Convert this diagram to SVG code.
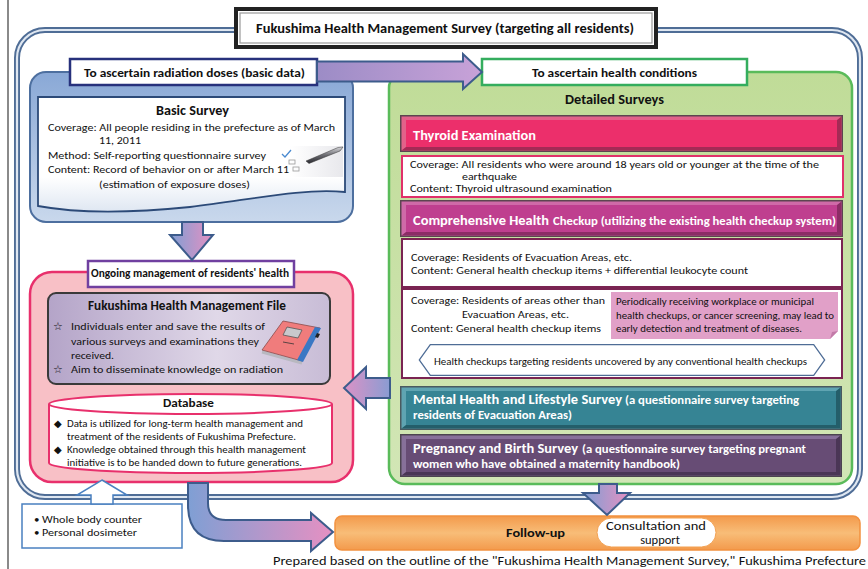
<svg xmlns="http://www.w3.org/2000/svg" width="868" height="569" viewBox="0 0 868 569">
<defs>
<linearGradient id="gArrow" x1="0" y1="0" x2="1" y2="0"><stop offset="0" stop-color="#7f9fd4"/><stop offset="1" stop-color="#e690c2"/></linearGradient>
<linearGradient id="gArrowL" x1="1" y1="0" x2="0" y2="0"><stop offset="0" stop-color="#8a9cd2"/><stop offset="1" stop-color="#dc92c6"/></linearGradient>
<linearGradient id="gTop" x1="0" y1="0" x2="1" y2="0"><stop offset="0" stop-color="#9c8cc6"/><stop offset="1" stop-color="#c8a2d8"/></linearGradient>
<linearGradient id="gBlue" x1="0" y1="0" x2="0" y2="1"><stop offset="0" stop-color="#89a8d6"/><stop offset="1" stop-color="#c9d8ec"/></linearGradient>
<linearGradient id="gGreen" x1="0" y1="0" x2="0" y2="1"><stop offset="0" stop-color="#c0dc98"/><stop offset="1" stop-color="#d2e6b6"/></linearGradient>
<linearGradient id="gLav" x1="0" y1="0" x2="1" y2="0"><stop offset="0" stop-color="#b4a4c8"/><stop offset="0.6" stop-color="#e0d8e8"/><stop offset="1" stop-color="#c8bcd6"/></linearGradient>
<linearGradient id="gOrange" x1="0" y1="0" x2="0" y2="1"><stop offset="0" stop-color="#f39a4c"/><stop offset="0.5" stop-color="#f8bd78"/><stop offset="1" stop-color="#f39a4c"/></linearGradient>
<linearGradient id="gDoc" x1="0" y1="0" x2="0" y2="1"><stop offset="0.7" stop-color="#ffffff"/><stop offset="1" stop-color="#dfe7f2"/></linearGradient>
<linearGradient id="gPenBg" x1="0" y1="0" x2="1" y2="0"><stop offset="0" stop-color="#ffffff"/><stop offset="1" stop-color="#e8e8ec"/></linearGradient>
<linearGradient id="gPen" x1="0" y1="0" x2="0" y2="1"><stop offset="0" stop-color="#d8d8dc"/><stop offset="0.5" stop-color="#6a6a70"/><stop offset="1" stop-color="#2a2a30"/></linearGradient>
</defs>
<style>
.t{font-family:Carlito,Lato,'Liberation Sans',sans-serif;fill:#111;font-size:11px}
.b{font-weight:bold}
.w{fill:#fff}
.s10{font-size:10px}
.s12{font-size:12.5px}
.s13{font-size:13.5px}
.s14{font-size:14px}
.arr{stroke:#3d5c8c;stroke-width:2;stroke-linejoin:miter}
.outerD{fill:none;stroke:#4f6d96;stroke-width:6}
.outerL{fill:none;stroke:#dfe7f1;stroke-width:2.2}
</style>

<!-- page edge line -->
<line x1="8" y1="0" x2="8" y2="569" stroke="#8a8a8a" stroke-width="2"/>

<!-- outer frame -->
<g id="frame">
<rect x="17" y="30" width="843" height="467" rx="28" class="outerD"/>
<rect x="17" y="30" width="843" height="467" rx="28" class="outerL"/>
</g>

<!-- title -->
<g id="title">
<rect x="236" y="9" width="420" height="38" fill="#fff" stroke="#222" stroke-width="4"/>
<rect x="240" y="13" width="412" height="30" fill="none" stroke="#9a9a9a" stroke-width="1.2"/>
<text x="256" y="33" class="t b s14" textLength="378" lengthAdjust="spacingAndGlyphs">Fukushima Health Management Survey (targeting all residents)</text>
</g>

<!-- blue: radiation doses -->
<g id="radiation">
<rect x="30" y="72" width="323" height="150" rx="16" fill="url(#gBlue)" stroke="#4d6f9f" stroke-width="2"/>
<path d="M38,97 H345 V192 C300,188 250,200 190,207 C120,214 70,212 38,206 Z" fill="url(#gDoc)" stroke="#2c4a78" stroke-width="1.8"/>
<g id="pen-icon">
<rect x="290" y="146" width="53" height="31" fill="url(#gPenBg)"/>
<path d="M282,154 L285,157 L291,150" fill="none" stroke="#4a8ad0" stroke-width="1.3"/>
<rect x="289" y="160" width="6" height="4" fill="none" stroke="#999" stroke-width="0.8"/>
<rect x="293" y="167" width="6" height="4" fill="none" stroke="#999" stroke-width="0.8"/>
<path d="M306,161 L338,147.5 L343,147 L340,151 L309,163.5 Z" fill="url(#gPen)" stroke="#333" stroke-width="0.5"/>
</g>
<text x="156" y="115" class="t b s13" textLength="73" lengthAdjust="spacingAndGlyphs">Basic Survey</text>
<text x="48" y="131" class="t" textLength="287" lengthAdjust="spacingAndGlyphs">Coverage: All people residing in the prefecture as of March</text>
<text x="99" y="144" class="t" textLength="42" lengthAdjust="spacingAndGlyphs">11, 2011</text>
<text x="48" y="159" class="t" textLength="218" lengthAdjust="spacingAndGlyphs">Method: Self-reporting questionnaire survey</text>
<text x="48" y="173" class="t" textLength="241" lengthAdjust="spacingAndGlyphs">Content: Record of behavior on or after March 11</text>
<text x="99" y="188" class="t" textLength="151" lengthAdjust="spacingAndGlyphs">(estimation of exposure doses)</text>
<rect x="70" y="59" width="247" height="26" fill="#fff" stroke="#27317c" stroke-width="2.5"/>
<text x="84" y="77" class="t b s12" textLength="221" lengthAdjust="spacingAndGlyphs">To ascertain radiation doses (basic data)</text>
</g>

<!-- green: health conditions -->
<g id="health-conditions">
<rect x="389" y="72" width="463" height="412" rx="16" fill="url(#gGreen)" stroke="#5abb5a" stroke-width="2.5"/>
<rect x="482" y="59" width="265" height="26" fill="#fff" stroke="#34ad5e" stroke-width="2.5"/>
<text x="532" y="77" class="t b s12" textLength="165" lengthAdjust="spacingAndGlyphs">To ascertain health conditions</text>
<text x="565" y="104" class="t b s13" textLength="99" lengthAdjust="spacingAndGlyphs">Detailed Surveys</text>
</g>

<g id="thyroid">
<rect x="400" y="115" width="443" height="37" fill="#5d4550"/>
<rect x="401.5" y="116.5" width="440" height="34" fill="#e2628a"/>
<polygon points="841.5,116.5 837,120 837,147 406,147 401.5,150.5 841.5,150.5" fill="#a42a55"/>
<rect x="406" y="120" width="431" height="27" fill="#ec2f6b"/>
<text x="413" y="140" class="t b s14 w" textLength="123" lengthAdjust="spacingAndGlyphs">Thyroid Examination</text>
<rect x="402" y="156" width="441" height="41" fill="#fff" stroke="#e0306a" stroke-width="2"/>
<text x="410" y="168" class="t" textLength="409" lengthAdjust="spacingAndGlyphs">Coverage: All residents who were around 18 years old or younger at the time of the</text>
<text x="462" y="180" class="t" textLength="55" lengthAdjust="spacingAndGlyphs">earthquake</text>
<text x="410" y="192" class="t" textLength="202" lengthAdjust="spacingAndGlyphs">Content: Thyroid ultrasound examination</text>
</g>

<g id="comprehensive">
<rect x="400" y="200" width="443" height="37" fill="#5d4550"/>
<rect x="401.5" y="201.5" width="440" height="34" fill="#cf6aa8"/>
<polygon points="841.5,201.5 837,205 837,232 406,232 401.5,235.5 841.5,235.5" fill="#8c2c66"/>
<rect x="406" y="205" width="431" height="27" fill="#bf3f8f"/>
<text x="413" y="225" class="t b s14 w" textLength="136" lengthAdjust="spacingAndGlyphs">Comprehensive Health</text>
<text x="553" y="225" class="t b w" style="font-size:12px" textLength="283" lengthAdjust="spacingAndGlyphs">Checkup (utilizing the existing health checkup system)</text>
</g>

<g id="evacuation-checkup">
<rect x="402" y="239" width="440" height="48" fill="#fff" stroke="#7a2452" stroke-width="2"/>
<text x="411" y="261" class="t" textLength="221" lengthAdjust="spacingAndGlyphs">Coverage: Residents of Evacuation Areas, etc.</text>
<text x="411" y="274" class="t" textLength="337" lengthAdjust="spacingAndGlyphs">Content: General health checkup items + differential leukocyte count</text>
</g>

<g id="other-areas-checkup">
<rect x="402" y="289" width="440" height="89" fill="#fff" stroke="#7a2452" stroke-width="2"/>
<text x="411" y="304" class="t" textLength="194" lengthAdjust="spacingAndGlyphs">Coverage: Residents of areas other than</text>
<text x="462" y="318" class="t" textLength="107" lengthAdjust="spacingAndGlyphs">Evacuation Areas, etc.</text>
<text x="411" y="332" class="t" textLength="190" lengthAdjust="spacingAndGlyphs">Content: General health checkup items</text>
<g id="note">
<path d="M611,292 H838 V331 L830,339 H611 Z" fill="#e1a0c8"/>
<path d="M830,339 L832,332 L838,331 Z" fill="#c27aa8"/>
<text x="616" y="305" class="t s10" textLength="198" lengthAdjust="spacingAndGlyphs">Periodically receiving workplace or municipal</text>
<text x="616" y="318.5" class="t s10" textLength="218" lengthAdjust="spacingAndGlyphs">health checkups, or cancer screening, may lead to</text>
<text x="616" y="332" class="t s10" textLength="186" lengthAdjust="spacingAndGlyphs">early detection and treatment of diseases.</text>
</g>
<g id="banner">
<polygon points="421,360 431,346 813,346 823,360 813,374 431,374" fill="#fff" stroke="#4f6d96" stroke-width="4"/>
<polygon points="421,360 431,346 813,346 823,360 813,374 431,374" fill="#fff" stroke="#fff" stroke-width="1.4"/>
<text x="434" y="365" class="t" style="font-size:10.5px" textLength="373" lengthAdjust="spacingAndGlyphs">Health checkups targeting residents uncovered by any conventional health checkups</text>
</g>
</g>

<g id="mental">
<rect x="400" y="386" width="442" height="44" fill="#4a5a60"/>
<rect x="401.5" y="387.5" width="439" height="41" fill="#5fa4b2"/>
<polygon points="840.5,387.5 836,391 836,425 406,425 401.5,428.5 840.5,428.5" fill="#245e6a"/>
<rect x="406" y="391" width="430" height="34" fill="#368494"/>
<text x="413" y="404" class="t b s14 w" textLength="209" lengthAdjust="spacingAndGlyphs">Mental Health and Lifestyle Survey</text>
<text x="625" y="404" class="t b w" style="font-size:12px" textLength="174" lengthAdjust="spacingAndGlyphs">(a questionnaire survey targeting</text>
<text x="413" y="419" class="t b w" style="font-size:12px" textLength="159" lengthAdjust="spacingAndGlyphs">residents of Evacuation Areas)</text>
</g>

<g id="pregnancy">
<rect x="400" y="434" width="442" height="43" fill="#4c4450"/>
<rect x="401.5" y="435.5" width="439" height="40" fill="#87709a"/>
<polygon points="840.5,435.5 836,439 836,472 406,472 401.5,475.5 840.5,475.5" fill="#4a3656"/>
<rect x="406" y="439" width="430" height="33" fill="#674c75"/>
<text x="413" y="453" class="t b s14 w" textLength="165" lengthAdjust="spacingAndGlyphs">Pregnancy and Birth Survey</text>
<text x="582" y="453" class="t b w" style="font-size:12px" textLength="224" lengthAdjust="spacingAndGlyphs">(a questionnaire survey targeting pregnant</text>
<text x="413" y="468" class="t b w" style="font-size:12px" textLength="267" lengthAdjust="spacingAndGlyphs">women who have obtained a maternity handbook)</text>
</g>

<!-- pink: ongoing management -->
<g id="ongoing-management">
<rect x="30" y="272" width="323" height="210" rx="22" fill="#f8c0c6" stroke="#e8306c" stroke-width="2.5"/>
<rect x="88" y="261" width="206" height="26" fill="#fff" stroke="#7040a0" stroke-width="2.5"/>
<text x="91" y="277" class="t b" style="font-size:11.5px" textLength="198" lengthAdjust="spacingAndGlyphs">Ongoing management of residents' health</text>
</g>

<g id="health-file">
<rect x="48" y="293" width="282" height="91" rx="8" fill="url(#gLav)" stroke="#3a3a3a" stroke-width="2"/>
<text x="88" y="310" class="t b" style="font-size:13px" textLength="198" lengthAdjust="spacingAndGlyphs">Fukushima Health Management File</text>
<text x="53" y="330" class="t" style="font-size:11px">☆</text>
<text x="71" y="330" class="t" textLength="194" lengthAdjust="spacingAndGlyphs">Individuals enter and save the results of</text>
<text x="71" y="345" class="t" textLength="188" lengthAdjust="spacingAndGlyphs">various surveys and examinations they</text>
<text x="71" y="359" class="t" textLength="43" lengthAdjust="spacingAndGlyphs">received.</text>
<text x="53" y="373" class="t" style="font-size:11px">☆</text>
<text x="71" y="373" class="t" textLength="212" lengthAdjust="spacingAndGlyphs">Aim to disseminate knowledge on radiation</text>
<g id="notebook">
<line x1="262" y1="352" x2="302" y2="363" stroke="#b8b8c0" stroke-width="3"/>
<polygon points="283,321 320,328 302,361 262,350" fill="#f07c7c" stroke="#8a4a4a" stroke-width="0.8"/>
<polygon points="315,327 321,328 303,362 297,360" fill="#3a78c4"/>
<polygon points="317,333 320,334 318,338 315,337" fill="#222"/>
<polygon points="287,327 302,330 298,338 283,335" fill="#c8c8cc" stroke="#555" stroke-width="0.8"/>
<line x1="283" y1="342" x2="294" y2="344" stroke="#333" stroke-width="0.8"/>
</g>
</g>

<g id="database">
<path d="M49,404 V463 A141.5,10 0 0 0 332,463 V404" fill="#fff" stroke="#e8306c" stroke-width="2"/>
<ellipse cx="190.5" cy="404" rx="141.5" ry="10" fill="#fff" stroke="#e8306c" stroke-width="2"/>
<text x="163" y="407" class="t b s12" textLength="51" lengthAdjust="spacingAndGlyphs">Database</text>
<text x="54" y="427" class="t s10">◆</text>
<text x="67" y="427" class="t" style="font-size:10.5px" textLength="236" lengthAdjust="spacingAndGlyphs">Data is utilized for long-term health management and</text>
<text x="67" y="439.5" class="t" style="font-size:10.5px" textLength="229" lengthAdjust="spacingAndGlyphs">treatment of the residents of Fukushima Prefecture.</text>
<text x="54" y="453" class="t s10">◆</text>
<text x="67" y="453" class="t" style="font-size:10.5px" textLength="239" lengthAdjust="spacingAndGlyphs">Knowledge obtained through this health management</text>
<text x="67" y="465.5" class="t" style="font-size:10.5px" textLength="235" lengthAdjust="spacingAndGlyphs">initiative is to be handed down to future generations.</text>
</g>

<g id="measurement">
<rect x="22" y="504" width="160" height="44" fill="#fff" stroke="#4a80c0" stroke-width="1.5"/>
<text x="34" y="523" class="t">•</text>
<text x="42" y="523" class="t" textLength="100" lengthAdjust="spacingAndGlyphs">Whole body counter</text>
<text x="34" y="536" class="t">•</text>
<text x="42" y="536" class="t" textLength="95" lengthAdjust="spacingAndGlyphs">Personal dosimeter</text>
</g>

<g id="follow-up">
<rect x="335" y="516" width="525" height="34" rx="7" fill="url(#gOrange)" stroke="#f2913f" stroke-width="1.5"/>
<text x="506" y="537" class="t b s12" textLength="59" lengthAdjust="spacingAndGlyphs">Follow-up</text>
<rect x="597" y="518" width="119" height="29" rx="14.5" fill="#fff" stroke="#f3a050" stroke-width="1"/>
<text x="656" y="530" class="t" style="font-size:12.5px" text-anchor="middle" textLength="100" lengthAdjust="spacingAndGlyphs">Consultation and</text>
<text x="660" y="544" class="t" style="font-size:12.5px" text-anchor="middle">support</text>
</g>

<!-- connectors -->
<g id="connectors">
<polygon class="arr" points="317,61.5 463,61.5 463,54 482,72 463,89 463,81.5 317,81.5" fill="url(#gTop)"/>
<polygon class="arr" points="182,222 203,222 203,235 213,235 192,260 170,235 182,235" fill="url(#gArrow)"/>
<polygon class="arr" points="390,378 366,378 366,367 344,388 366,409 366,398 390,398" fill="url(#gArrowL)"/>
<polygon class="arr" points="599,484 617,484 617,493 630,493 607,515 583,493 599,493" fill="url(#gArrow)"/>
<path class="arr" d="M188,483 L188,505 Q188,541 224,541 L311,541 L311,551 L333,532 L311,513 L311,520 L226,520 Q208,520 208,503 L208,483 Z" fill="url(#gArrow)"/>
<polygon points="102,480 127,495 113,495 113,504 91,504 91,495 77,495" fill="#fff" stroke="#4a80c0" stroke-width="1.5" stroke-linejoin="miter"/>
</g>

<text x="273" y="565" class="t" style="font-size:12px" textLength="593" lengthAdjust="spacingAndGlyphs">Prepared based on the outline of the "Fukushima Health Management Survey," Fukushima Prefecture</text>
</svg>
